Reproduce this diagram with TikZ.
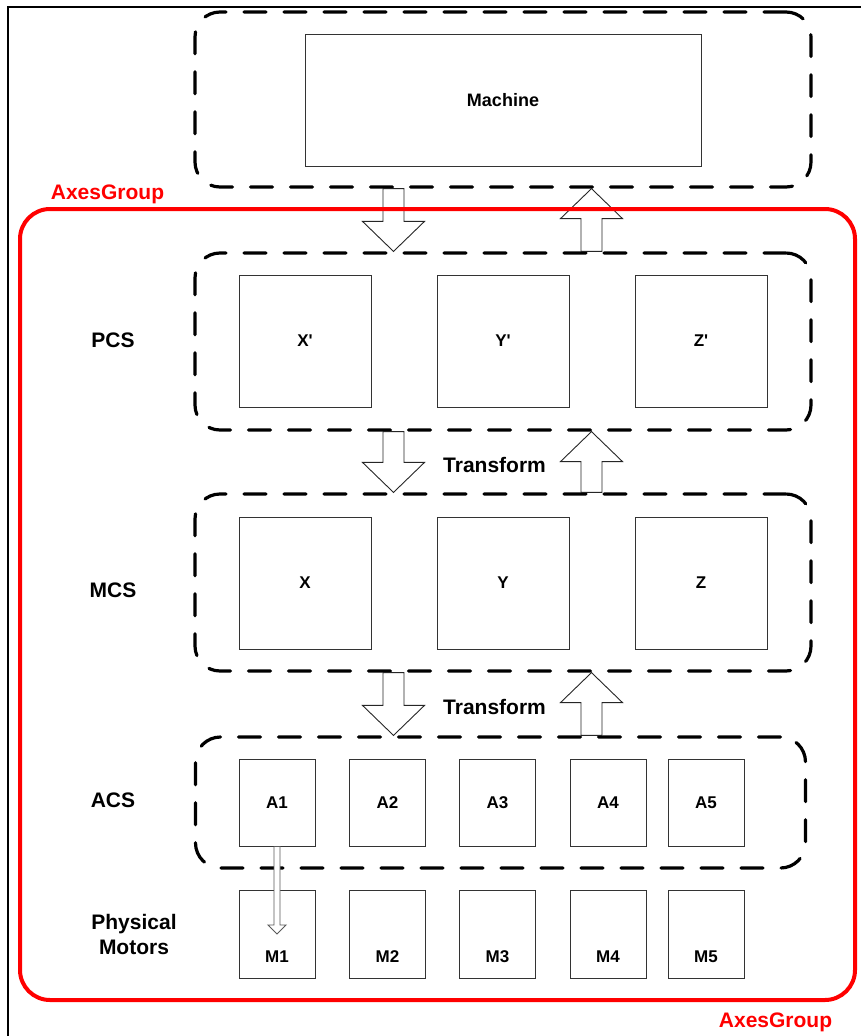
\documentclass[tikz,border=0pt]{standalone}
\usepackage{fontspec}
\setmainfont{Liberation Sans}
\usetikzlibrary{calc}
\tikzset{
  grp/.style={draw, line width=3.2pt, dash pattern=on 22pt off 18pt, line cap=round,
    rounded corners=25pt, minimum width=616pt, minimum height=177pt, inner sep=0pt},
  cbox/.style={draw=black!80, line width=0.9pt, minimum width=132pt, minimum height=132pt,
    inner sep=0pt, font=\bfseries\fontsize{17}{20}\selectfont},
  abox/.style={cbox, minimum width=76pt, minimum height=87pt},
  mbox/.style={cbox, minimum width=76pt, minimum height=88pt},
  sidelbl/.style={font=\bfseries\fontsize{21}{26}\selectfont, align=center},
  redlbl/.style={font=\bfseries\fontsize{21}{26}\selectfont, text=red},
  blockarr/.style={draw=black!85, line width=0.9pt, fill=white, line join=miter},
  thinarr/.style={draw=black!65, line width=0.9pt, fill=white, line join=miter},
}
\newcommand\fatarrow[6]{%
  \draw[#6] let \p1=(#1), \p2=(#2), \p3=($(#2)!#5!(#1)$) in
    (\x1-#3,\y1) -- (\x1+#3,\y1) -- (\x1+#3,\y3) -- (\x1+#4,\y3) -- (\x2,\y2)
    -- (\x1-#4,\y3) -- (\x1-#3,\y3) -- cycle;}
\begin{document}
\begin{tikzpicture}[x=1pt,y=-1pt]
\useasboundingbox (0,0) rectangle (861,1036);
% outer frame
\draw[line width=2pt] (7.5,1036) -- (7.5,6.5) -- (861,6.5);

% Machine
\node[grp, minimum height=175pt] (machgrp) at (503,99.5) {};
\node[cbox, minimum width=396pt, font=\bfseries\fontsize{18}{20}\selectfont] (machine) at (503,100) {Machine};

% PCS
\node[grp] (pcsgrp) at (503,341.5) {};
\node[cbox] (xp) at (305,341) {X\textquotesingle};
\node[cbox] (yp) at (503,341) {Y\textquotesingle};
\node[cbox] (zp) at (701,341) {Z\textquotesingle};
\node[sidelbl] (pcs) at (113,340) {PCS};

% MCS
\node[grp] (mcsgrp) at (503,582.5) {};
\node[cbox] (x) at (305,583) {X};
\node[cbox] (y) at (503,583) {Y};
\node[cbox] (z) at (701,583) {Z};
\node[sidelbl] (mcs) at (113,590) {MCS};

% ACS
\node[grp, minimum width=610pt, minimum height=131pt] (acsgrp) at (500.5,802.5) {};
\node[abox] (a1) at (277,802.5) {A1};
\node[abox] (a2) at (387.5,802.5) {A2};
\node[abox] (a3) at (497.5,802.5) {A3};
\node[abox] (a4) at (608,802.5) {A4};
\node[abox] (a5) at (706,802.5) {A5};
\node[sidelbl] (acs) at (113,800) {ACS};

% Motors
\node[mbox, label={[anchor=center,yshift=22pt,font=\bfseries\fontsize{17}{20}\selectfont]south:M1}] (m1) at (277,934) {};
\node[mbox, label={[anchor=center,yshift=22pt,font=\bfseries\fontsize{17}{20}\selectfont]south:M2}] (m2) at (387.5,934) {};
\node[mbox, label={[anchor=center,yshift=22pt,font=\bfseries\fontsize{17}{20}\selectfont]south:M3}] (m3) at (497.5,934) {};
\node[mbox, label={[anchor=center,yshift=22pt,font=\bfseries\fontsize{17}{20}\selectfont]south:M4}] (m4) at (608,934) {};
\node[mbox, label={[anchor=center,yshift=22pt,font=\bfseries\fontsize{17}{20}\selectfont]south:M5}] (m5) at (706,934) {};
\node[sidelbl] (phys) at (134,934) {Physical\\[-1pt]Motors};

% Transform labels
\node[sidelbl] (t1) at (494.5,465) {Transform};
\node[sidelbl] (t2) at (494.5,707) {Transform};

% arrow columns
\coordinate (dl) at (393.5,0);
\coordinate (ur) at (591.5,0);

\fatarrow{machgrp.south -| dl}{pcsgrp.north -| dl}{10.5pt}{31pt}{30pt}{blockarr}
\fatarrow{pcsgrp.north -| ur}{machgrp.south -| ur}{10.5pt}{31pt}{30pt}{blockarr}
\fatarrow{pcsgrp.south -| dl}{mcsgrp.north -| dl}{10.5pt}{31pt}{30pt}{blockarr}
\fatarrow{mcsgrp.north -| ur}{pcsgrp.south -| ur}{10.5pt}{31pt}{30pt}{blockarr}
\fatarrow{mcsgrp.south -| dl}{acsgrp.north -| dl}{10.5pt}{31pt}{30pt}{blockarr}
\fatarrow{acsgrp.north -| ur}{mcsgrp.south -| ur}{10.5pt}{31pt}{30pt}{blockarr}

% A1 -> M1
\fatarrow{a1.south}{m1.center}{3pt}{9pt}{9pt}{thinarr}

% AxesGroup
\node[draw=red, line width=4pt, rounded corners=30pt, minimum width=835pt,
  minimum height=791pt, inner sep=0pt] (axes) at (437.5,604.5) {};
\node[redlbl] (axtop) at (107.5,194) {AxesGroup};
\node[redlbl] (axbot) at (775.5,1022) {AxesGroup};
\end{tikzpicture}
\end{document}
